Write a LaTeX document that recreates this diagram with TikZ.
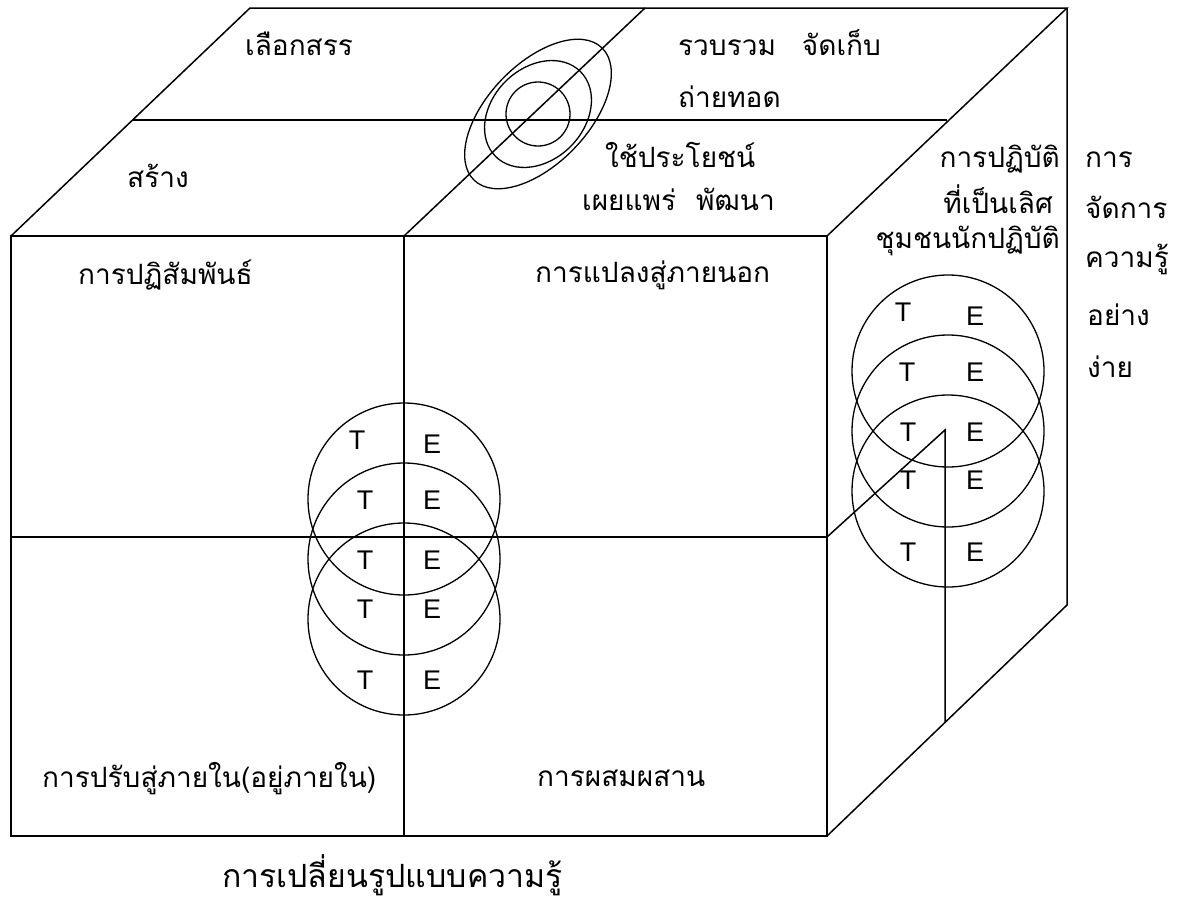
\documentclass[tikz,border=0pt]{standalone}
\usepackage{fontspec}
\setmainfont{Liberation Sans}
\newfontfamily\thaifont[Script=Thai]{Loma}
\begin{document}
\begin{tikzpicture}[x=1pt,y=-1pt,
  edge/.style={line width=1.5pt, line join=miter},
  ring/.style={line width=1.3pt},
  th/.style={font=\thaifont\fontsize{28}{30}\selectfont, inner sep=0pt},
  thbig/.style={font=\thaifont\fontsize{32}{36}\selectfont, inner sep=0pt},
  te/.style={font=\fontsize{27}{30}\selectfont, inner sep=0pt}]
\useasboundingbox (0,0) rectangle (1180,902);
% corners
\coordinate (ftl) at (11,236);
\coordinate (ftm) at (404,236);
\coordinate (ftr) at (827,236);
\coordinate (fbl) at (11,836);
\coordinate (fbm) at (404,836);
\coordinate (fbr) at (827,836);
\coordinate (fml) at (11,537);
\coordinate (fmr) at (827,537);
\coordinate (btl) at (250,8);
\coordinate (btm) at (645,8);
\coordinate (btr) at (1067,8);
\coordinate (bbr) at (1067,605);
\coordinate (tml) at (133,120);
\coordinate (tmr) at (947,120);
\coordinate (rmk) at (945,430);
\coordinate (rmb) at (945,723);
% cube
\draw[edge] (ftl) rectangle (fbr);
\draw[edge] (ftm) -- (fbm);
\draw[edge] (fml) -- (fmr);
\draw[edge] (ftl) -- (btl) -- (btr) -- (ftr);
\draw[edge] (btr) -- (bbr) -- (fbr);
\draw[edge] (tml) -- (tmr);
\draw[edge] (ftm) -- (btm);
\draw[edge] (fmr) -- (rmk) -- (rmb);
% top ellipses
\coordinate (ec) at (538,114);
\draw[ring] (ec) circle[radius=32];
\draw[ring] (ec) ellipse[x radius=60, y radius=46, rotate=45];
\draw[ring] (ec) ellipse[x radius=92, y radius=50, rotate=46];
% front circles
\draw[ring] (404,499) circle[radius=96];
\draw[ring] (404,559) circle[radius=96];
\draw[ring] (404,619) circle[radius=96];
% right circles
\draw[ring] (948,371) circle[radius=96];
\draw[ring] (948,431) circle[radius=96];
\draw[ring] (948,491) circle[radius=96];
% T E front
\node[te] (ft1) at (357,440) {T};
\node[te] (fe1) at (432,444) {E};
\node[te] (ft2) at (365,500) {T};
\node[te] (fe2) at (432,500) {E};
\node[te] (ft3) at (365,560) {T};
\node[te] (fe3) at (432,560) {E};
\node[te] (ft4) at (365,609) {T};
\node[te] (fe4) at (432,609) {E};
\node[te] (ft5) at (365,680) {T};
\node[te] (fe5) at (432,680) {E};
% T E right
\node[te] (rt1) at (903,312) {T};
\node[te] (re1) at (975,316) {E};
\node[te] (rt2) at (907,372) {T};
\node[te] (re2) at (975,372) {E};
\node[te] (rt3) at (908,432) {T};
\node[te] (re3) at (975,432) {E};
\node[te] (rt4) at (908,480) {T};
\node[te] (re4) at (975,480) {E};
\node[te] (rt5) at (908,552) {T};
\node[te] (re5) at (975,552) {E};
% Thai labels
\node[th, anchor=base west] (l1) at (245,55) {เลือกสรร};
\node[th, anchor=base west] (l2) at (678,55) {รวบรวม\hspace{26pt}จัดเก็บ};
\node[th, anchor=base west] (l3) at (678,107) {ถ่ายทอด};
\node[th, anchor=base west] (l4) at (127,187) {สร้าง};
\node[th, anchor=base west] (l5) at (605,167) {ใช้ประโยชน์};
\node[th, anchor=base west] (l6) at (582,210) {เผยแพร่\hspace{20pt}พัฒนา};
\node[th, anchor=base east] (l7) at (1060,167) {การปฏิบัติ};
\node[th, anchor=base east] (l8) at (1053,213) {ที่เป็นเลิศ};
\node[th, anchor=base east] (l9) at (1060,248) {ชุมชนนักปฏิบัติ};
\node[th, anchor=base west] (k1) at (1085,167) {การ};
\node[th, anchor=base west] (k2) at (1085,218) {จัดการ};
\node[th, anchor=base west] (k3) at (1085,267) {ความรู้};
\node[th, anchor=base west] (k4) at (1087,325) {อย่าง};
\node[th, anchor=base west] (k5) at (1087,377) {ง่าย};
\node[th, anchor=base west] (q1) at (78,284) {การปฏิสัมพันธ์};
\node[th, anchor=base west] (q2) at (535,282) {การแปลงสู่ภายนอก};
\node[th, anchor=base west] (q3) at (42,787) {การปรับสู่ภายใน(อยู่ภายใน)};
\node[th, anchor=base west] (q4) at (537,786) {การผสมผสาน};
\node[thbig, anchor=base west] (ttl) at (222,887) {การเปลี่ยนรูปแบบความรู้};
\end{tikzpicture}
\end{document}
